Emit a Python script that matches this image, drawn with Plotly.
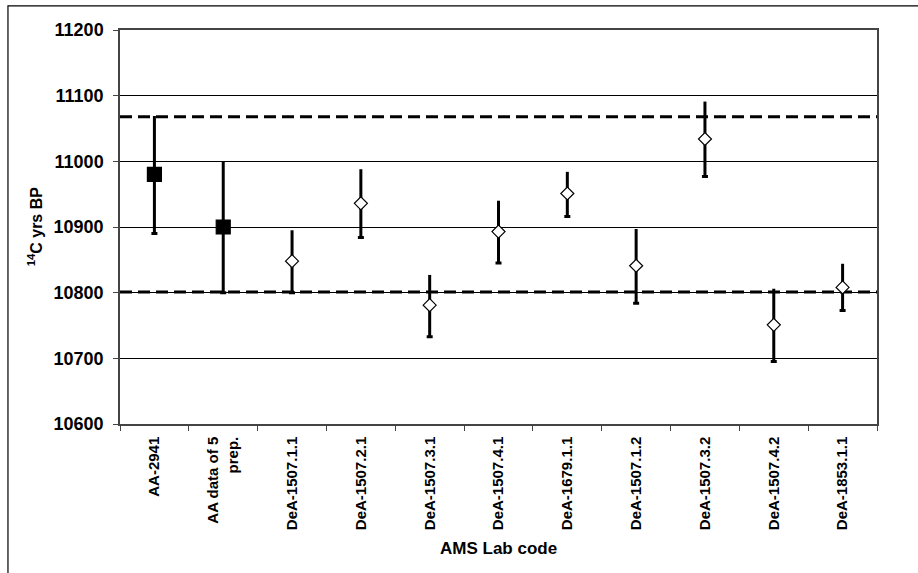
import plotly.graph_objects as go

labels = ["AA-2941", "AA data of 5<br>prep.", "DeA-1507.1.1", "DeA-1507.2.1", "DeA-1507.3.1",
          "DeA-1507.4.1", "DeA-1679.1.1", "DeA-1507.1.2", "DeA-1507.3.2", "DeA-1507.4.2", "DeA-1853.1.1"]
ages = [10980, 10900, 10848, 10936, 10781, 10893, 10951, 10841, 11034, 10751, 10808]
err_plus = [89, 100, 47, 52, 46, 47, 33, 56, 57, 55, 36]
err_minus = [90, 100, 48, 52, 48, 48, 35, 57, 57, 56, 35]
symbols = ["square"] * 2 + ["diamond"] * 9
upper_limit = 11068
lower_limit = 10801
y_ticks = [10600, 10700, 10800, 10900, 11000, 11100, 11200]

fig = go.Figure()
# upper part of error bars (no cap)
fig.add_trace(go.Scatter(
    x=labels, y=ages, mode="markers",
    marker=dict(size=1, color="rgba(0,0,0,0)"),
    error_y=dict(type="data", array=err_plus, arrayminus=[0] * len(ages), symmetric=False,
                 color="black", thickness=3, width=0),
    hoverinfo="skip", showlegend=False))
# lower part with cap + markers
fig.add_trace(go.Scatter(
    x=labels, y=ages, mode="markers",
    marker=dict(symbol=symbols, size=[14, 14] + [10] * 9, color=["black"] * 2 + ["white"] * 9,
                opacity=1, line=dict(color="black", width=1.2)),
    error_y=dict(type="data", array=[0] * len(ages), arrayminus=err_minus, symmetric=False,
                 color="black", thickness=3, width=3),
    showlegend=False))

for v in [upper_limit, lower_limit]:
    fig.add_shape(type="line", xref="paper", yref="y", x0=0, x1=1, y0=v, y1=v,
                  line=dict(color="black", width=3, dash="12px,6px"), layer="below")

# outer chart border
fig.add_shape(type="rect", xref="paper", yref="paper", x0=-0.148, x1=1.06, y0=-0.4, y1=1.061,
              line=dict(color="black", width=1.2), fillcolor="rgba(0,0,0,0)")

fig.add_annotation(text="<b><sup>14</sup>C yrs BP</b>", xref="paper", yref="paper", x=-0.112, y=0.5,
                   textangle=-90, showarrow=False, xanchor="center", yanchor="middle",
                   font=dict(family="Arial, Liberation Sans", size=16, color="black"))
fig.add_annotation(text="<b>AMS Lab code</b>", xref="paper", yref="paper", x=0.5, y=-0.317,
                   showarrow=False, xanchor="center", yanchor="middle",
                   font=dict(family="Arial, Liberation Sans", size=17, color="black"))

fig.update_layout(
    width=918, height=573,
    margin=dict(l=120, r=41, t=30, b=149),
    paper_bgcolor="white", plot_bgcolor="white",
    font=dict(family="Arial, Liberation Sans", color="black", size=16),
    xaxis=dict(type="category", tickangle=-90, tickson="boundaries", ticks="outside", ticklen=5,
               tickcolor="#444", showline=True, linecolor="#444", linewidth=1.5, mirror=True,
               showgrid=False, tickfont=dict(size=15, family="Arial, Liberation Sans", color="black"),
               range=[-0.5, 10.5], tickmode="array", tickvals=labels, ticklabelstandoff=5,
               ticktext=["<b>" + l + "</b>" for l in labels], automargin=False),
    yaxis=dict(range=[10600, 11200], ticks="outside", ticklen=5, tickcolor="#444",
               showline=True, linecolor="#444", linewidth=1.5, mirror=True,
               showgrid=True, gridcolor="black", gridwidth=1, zeroline=False,
               tickmode="array", tickvals=y_ticks, ticktext=["<b>%d</b>" % v for v in y_ticks],
               tickfont=dict(size=18, family="Arial, Liberation Sans", color="black"),
               ticklabelstandoff=6, automargin=False),
)

fig.write_html("out.html")
